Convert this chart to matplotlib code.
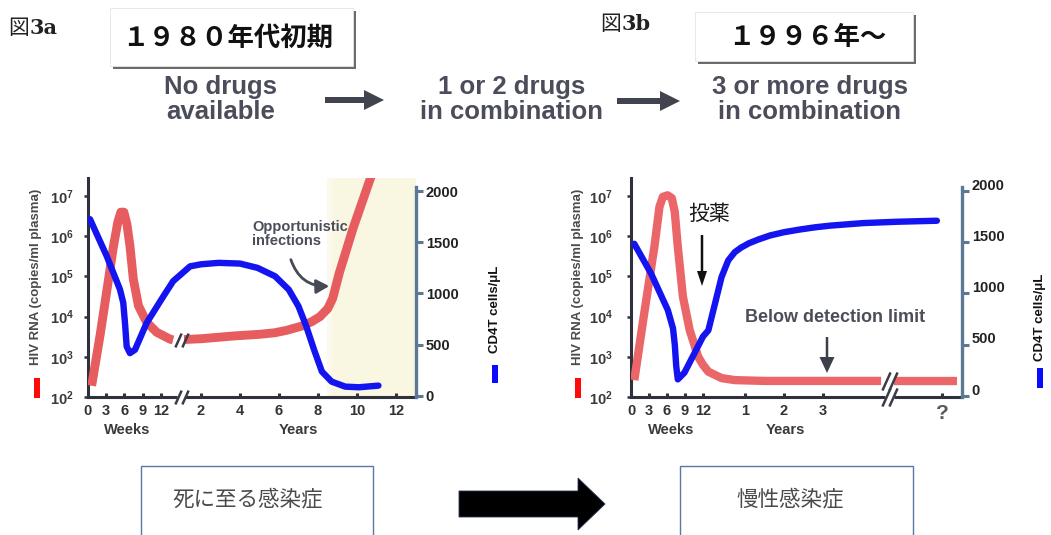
import matplotlib
matplotlib.use('Agg')
import matplotlib.pyplot as plt
import numpy as np
from matplotlib.patches import Rectangle, FancyArrow, FancyArrowPatch
from matplotlib.ticker import NullLocator
from matplotlib.transforms import ScaledTranslation

W, H = 1051, 535

# --- 3a: no drugs (RNA as log10 copies/ml, CD4T in cells/uL) ---
a_rna_weeks = [0.6, 2.0, 3.0, 4.2, 4.9, 5.4, 5.9, 6.4, 6.9, 7.45, 8.3, 9.65, 11.3, 13.5, 14.0]
a_rna_weeks_log = [2.28, 3.55, 4.55, 5.76, 6.35, 6.6, 6.6, 6.3, 5.76, 4.94, 4.27, 3.86, 3.61, 3.44, 3.42]
a_rna_years = [1.13, 2.0, 3.7, 5.0, 5.8, 6.4, 7.2, 7.7, 8.1, 8.5, 8.75, 9.1, 9.8, 10.8]
a_rna_years_log = [3.43, 3.45, 3.52, 3.56, 3.6, 3.66, 3.77, 3.88, 4.0, 4.2, 4.45, 5.1, 6.2, 7.6]
a_cd4_weeks = [0.33, 3.07, 5.26, 5.8, 6.1, 6.36, 6.9, 7.73, 9.65, 12.4, 14.0]
a_cd4_weeks_val = [1725, 1366, 1039, 909, 700, 483, 418, 451, 713, 973, 1120]
a_cd4_years = [1.44, 2.0, 2.9, 4.0, 4.9, 5.8, 6.5, 7.0, 7.4, 7.8, 8.2, 8.7, 9.4, 10.1, 11.1]
a_cd4_years_val = [1265, 1285, 1299, 1292, 1250, 1168, 1038, 875, 679, 450, 238, 140, 91, 85, 101]

# --- 3b: 3 or more drugs ---
b_rna_weeks = [0.55, 2.2, 3.9, 4.74, 5.3, 6.1, 6.8, 7.3, 7.8, 8.65, 9.77, 11.2, 12.0]
b_rna_weeks_log = [2.42, 4.08, 5.74, 6.73, 6.98, 7.02, 6.95, 6.6, 5.74, 4.5, 3.67, 3.0, 2.8]
b_rna_years = [0.06, 0.4, 0.74, 1.5, 4.49]
b_rna_years_log = [2.63, 2.47, 2.42, 2.4, 2.4]
b_rna_late = [4.82, 6.44]
b_rna_late_log = [2.4, 2.4]
b_cd4_weeks = [0.55, 3.35, 6.13, 7.0, 7.3, 7.54, 7.8, 8.9, 10.6, 12.0]
b_cd4_weeks_val = [1485, 1194, 839, 660, 500, 290, 162, 227, 420, 580]
b_cd4_years = [0.06, 0.19, 0.4, 0.57, 0.74, 0.9, 1.1, 1.35, 1.64, 2.0, 2.4, 2.8, 3.18, 4.03, 4.89, 5.92]
b_cd4_years_val = [640, 839, 1162, 1323, 1404, 1448, 1490, 1528, 1566, 1598, 1624, 1646, 1662, 1687, 1700, 1710]

rna_exp = [2, 3, 4, 5, 6, 7]
cd4_ticks = [0, 500, 1000, 1500, 2000]
week_ticks = [0, 3, 6, 9, 12]
a_year_ticks = [2, 4, 6, 8, 10, 12]
b_year_ticks = [1, 2, 3]
b_unknown_year = 6.05

RED = '#e65c5f'
BLUE = '#1414f0'
DARK = '#2f323d'
SLATE = '#5d7894'
GREY_TXT = '#4b4e5a'
SANS = ['Liberation Sans', 'Noto Sans CJK JP']
CJK = ['Noto Sans CJK JP', 'DejaVu Sans']

plt.rcParams['font.family'] = SANS
plt.rcParams['mathtext.fontset'] = 'custom'
plt.rcParams['mathtext.rm'] = 'Liberation Sans:bold'
plt.rcParams['mathtext.bf'] = 'Liberation Sans:bold'

fig = plt.figure(figsize=(W / 100, H / 100), dpi=100)


def px_box(l, t, r, b):
    return [l / W, 1 - b / H, (r - l) / W, (b - t) / H]


def fpt(x, y):
    return x / W, 1 - y / H


def inch(x, y):
    return x / 100, (H - y) / 100


def setup_panel(left, right, ypad):
    width = right - left
    ax = fig.add_axes(px_box(left, 178, right, 397))
    ax.set_yscale('log')
    for s in ['top', 'right', 'bottom']:
        ax.spines[s].set_visible(False)
    ax.spines['left'].set_linewidth(2.2)
    ax.spines['left'].set_color(DARK)
    ax.set_yticks([10.0 ** e for e in rna_exp])
    ax.set_yticklabels([r'$\mathbf{10^{%d}}$' % e for e in rna_exp])
    ax.yaxis.set_minor_locator(NullLocator())
    ax.tick_params(axis='y', direction='out', length=3, width=1.8, color=DARK,
                   pad=ypad, labelsize=10.5, labelcolor='#3a3a3a')
    ax.tick_params(axis='x', direction='in', length=3, width=2.2, color=DARK,
                   pad=5, labelsize=10.5, labelcolor='#333333')

    ax2 = ax.twinx()
    for s in ['top', 'left', 'bottom']:
        ax2.spines[s].set_visible(False)
    ax2.spines['right'].set_color(SLATE)
    ax2.spines['right'].set_linewidth(2.4)
    ax2.spines['right'].set_bounds(-10, 2040)
    ax2.set_yticks(cd4_ticks)
    ax2.set_yticklabels([str(v) for v in cd4_ticks])
    ax2.tick_params(axis='y', direction='out', length=5, width=2.2, color=SLATE,
                    pad=2, labelsize=10.5, labelcolor='#222222')
    for lbl in ax2.get_yticklabels() + ax.get_yticklabels():
        lbl.set_fontweight('bold')
    return ax, ax2, width


def axis_line(ax, segments):
    for x0, x1 in segments:
        ax.plot([x0, x1], [0, 0], transform=ax.get_xaxis_transform(), clip_on=False,
                color=DARK, lw=2.2, solid_capstyle='butt', zorder=6)


def slashes(ax, xs, y, trans, size):
    ax.plot(xs, [y] * len(xs), transform=trans, ls='none', clip_on=False,
            marker=[(-0.45, -1), (0.45, 1)], markersize=size, mew=1.8,
            mec='#3a3d48', mfc='none', zorder=7)


def finish_xticks(ax, pos, labels, width):
    ax.set_xticks(pos)
    ax.set_xticklabels(labels, fontweight='bold')
    ax.set_xlim(0, width)
    ax.set_ylim(1e2, 10 ** 7.45)


# ---------------- panel 3a ----------------
ax, ax2, wa = setup_panel(88, 416, 7)
wk = lambda t: 6.08 * np.asarray(t, float)
yr = lambda t: 74 + 19.5 * np.asarray(t, float)

ax.axvspan(yr(8.7), wa, color='#f9f6e2', lw=0, zorder=0)
ax.axvspan(yr(8.45), yr(8.7), color='#fbf9ee', lw=0, zorder=0)
ax.plot(wk(a_rna_weeks), 10.0 ** np.array(a_rna_weeks_log), color=RED, lw=6.4,
        solid_capstyle='butt', solid_joinstyle='round', zorder=3)
ax.plot(yr(a_rna_years), 10.0 ** np.array(a_rna_years_log), color=RED, lw=6.4,
        solid_capstyle='butt', solid_joinstyle='round', zorder=3)
ax2.plot(np.concatenate([wk(a_cd4_weeks), yr(a_cd4_years)]),
         a_cd4_weeks_val + a_cd4_years_val, color=BLUE, lw=4.6,
         solid_capstyle='round', solid_joinstyle='round', zorder=4)
ax2.set_ylim(-10, 2127)

axis_line(ax, [(-1.5, 89), (97, wa)])
slashes(ax, [89.5, 96.5], 0, ax.get_xaxis_transform(), 10)
slashes(ax, [89.5, 96.5], 10 ** 3.42, ax.transData, 10)
finish_xticks(ax, np.concatenate([wk(week_ticks), yr(a_year_ticks)]),
              [str(v) for v in week_ticks + a_year_ticks], wa)

fig.text(*fpt(36, 277), 'HIV RNA (copies/ml plasma)', rotation=90, ha='center',
         va='center', fontsize=9.5, fontweight='bold', color='#4a4a4a')
fig.text(*fpt(495, 309), 'CD4T cells/μL', rotation=90, ha='center', va='center',
         fontsize=9.5, fontweight='bold', color='#111111')
fig.patches.append(Rectangle(fpt(34, 398), 6 / W, 20 / H, transform=fig.transFigure,
                             color='#ff0a0a', lw=0))
fig.patches.append(Rectangle(fpt(492, 383), 6 / W, 18 / H, transform=fig.transFigure,
                             color='#0a0aff', lw=0))
fig.text(*fpt(127, 430), 'Weeks', ha='center', va='center', fontsize=10.5,
         fontweight='bold', color='#3a3a3a')
fig.text(*fpt(298, 430), 'Years', ha='center', va='center', fontsize=10.5,
         fontweight='bold', color='#3a3a3a')
fig.text(*fpt(252, 234), 'Opportunistic\ninfections', ha='left', va='center',
         fontsize=10.5, fontweight='bold', color=GREY_TXT, linespacing=1.0)
fig.patches.append(FancyArrowPatch(fpt(290, 257), fpt(332, 286), transform=fig.transFigure,
                                   connectionstyle='arc3,rad=0.4',
                                   arrowstyle='-|>,head_length=0.55,head_width=0.3',
                                   lw=2, color='#464a55', mutation_scale=14))

# ---------------- panel 3b ----------------
bx, bx2, wb = setup_panel(631, 962, 10)
wk = lambda t: 6.0 * np.asarray(t, float)
yr = lambda t: 75 + 39 * np.asarray(t, float)

brna = '#ea6669'
bx.plot(np.concatenate([wk(b_rna_weeks), yr(b_rna_years)]),
        10.0 ** np.array(b_rna_weeks_log + b_rna_years_log), color=brna, lw=6,
        solid_capstyle='butt', solid_joinstyle='round', zorder=3)
bx.plot(yr(b_rna_late), 10.0 ** np.array(b_rna_late_log), color=brna, lw=6,
        solid_capstyle='butt', zorder=3)
bx2.plot(np.concatenate([wk(b_cd4_weeks), yr(b_cd4_years)]),
         b_cd4_weeks_val + b_cd4_years_val, color=BLUE, lw=4.6,
         solid_capstyle='round', solid_joinstyle='round', zorder=4)
bx2.set_ylim(-10, 2127)
for lbl in bx2.get_yticklabels():
    lbl.set_transform(lbl.get_transform() + ScaledTranslation(0, 5 / 72, fig.dpi_scale_trans))

axis_line(bx, [(-1.5, 254), (263, wb)])
slashes(bx, [254.5, 262], 0, bx.get_xaxis_transform(), 13)
slashes(bx, [254.5, 262], 10 ** 2.4, bx.transData, 13)
finish_xticks(bx, np.concatenate([wk(week_ticks), yr(b_year_ticks + [b_unknown_year])]),
              [str(v) for v in week_ticks + b_year_ticks] + ['?'], wb)
qlab = bx.get_xticklabels()[-1]
qlab.set_fontsize(15)
qlab.set_color('#5a5a5a')

fig.text(*fpt(578, 277), 'HIV RNA (copies/ml plasma)', rotation=90, ha='center',
         va='center', fontsize=9.5, fontweight='bold', color='#4a4a4a')
fig.text(*fpt(1040, 317), 'CD4T cells/μL', rotation=90, ha='center', va='center',
         fontsize=9.5, fontweight='bold', color='#111111')
fig.patches.append(Rectangle(fpt(575, 398), 6 / W, 20 / H, transform=fig.transFigure,
                             color='#ff0a0a', lw=0))
fig.patches.append(Rectangle(fpt(1037, 388), 6 / W, 20 / H, transform=fig.transFigure,
                             color='#0a0aff', lw=0))
fig.text(*fpt(671, 430), 'Weeks', ha='center', va='center', fontsize=10.5,
         fontweight='bold', color='#3a3a3a')
fig.text(*fpt(785, 430), 'Years', ha='center', va='center', fontsize=10.5,
         fontweight='bold', color='#3a3a3a')
fig.text(*fpt(835, 317), 'Below detection limit', ha='center', va='center',
         fontsize=13, fontweight='bold', color=GREY_TXT)
fig.text(*fpt(709, 214), '投薬', ha='center', va='center', fontsize=15,
         family=CJK, color='#1a1a1a')
fig.patches.append(FancyArrow(*inch(702, 235), 0, -0.51, width=0.025, head_width=0.1,
                              head_length=0.15, length_includes_head=True,
                              transform=fig.dpi_scale_trans, color='#111111', lw=0))
fig.patches.append(FancyArrow(*inch(827, 337), 0, -0.36, width=0.025, head_width=0.15,
                              head_length=0.16, length_includes_head=True,
                              transform=fig.dpi_scale_trans, color='#3d404b', lw=0))

# ---------------- header ----------------
fig.text(*fpt(8, 28), '図', ha='left', va='center', fontsize=15, family=CJK, color='#222222')
fig.text(*fpt(30, 28), '3a', ha='left', va='center', fontsize=15, family=['DejaVu Serif'],
         fontweight='bold', color='#222222')
fig.text(*fpt(600, 24), '図', ha='left', va='center', fontsize=15, family=CJK, color='#222222')
fig.text(*fpt(622, 24), '3b', ha='left', va='center', fontsize=15, family=['DejaVu Serif'],
         fontweight='bold', color='#222222')

for (l, t, r, b), label, cx in [((110, 8, 353, 66), '１９８０年代初期', 228),
                                ((695, 12, 913, 61), '１９９６年〜', 807)]:
    fig.patches.append(Rectangle(fpt(l + 3, b + 3), (r - l) / W, (b - t) / H,
                                 transform=fig.transFigure, color='#6b6b6b', lw=0))
    fig.patches.append(Rectangle(fpt(l, b), (r - l) / W, (b - t) / H,
                                 transform=fig.transFigure, facecolor='white',
                                 edgecolor='#e4e4e4', lw=0.6))
    fig.text(*fpt(cx, (t + b) / 2 + 1), label, ha='center', va='center', fontsize=19,
             family=CJK, fontweight='bold', color='#111111')

for cx, lines in [(221, ['No drugs', 'available']),
                  (512, ['1 or 2 drugs', 'in combination']),
                  (810, ['3 or more drugs', 'in combination'])]:
    for yy, s in zip([87, 112], lines):
        fig.text(*fpt(cx, yy), s, ha='center', va='center', fontsize=18.5,
                 fontweight='bold', color=GREY_TXT)

for x0, x1, yy in [(325, 384, 100), (617, 680, 101)]:
    fig.patches.append(FancyArrow(*inch(x0, yy), (x1 - x0) / 100, 0, width=0.06,
                                  head_width=0.2, head_length=0.2,
                                  length_includes_head=True,
                                  transform=fig.dpi_scale_trans, color='#41444f', lw=0))

# ---------------- bottom boxes ----------------
for l, r, label, cx in [(141, 373, '死に至る感染症', 248), (680, 913, '慢性感染症', 790)]:
    fig.patches.append(Rectangle(fpt(l, 560), (r - l) / W, (560 - 466) / H,
                                 transform=fig.transFigure, facecolor='white',
                                 edgecolor='#5b77a8', lw=1.0))
    fig.text(*fpt(cx, 499), label, ha='center', va='center', fontsize=15.5,
             family=CJK, color='#4a4a4a')

fig.patches.append(FancyArrow(*inch(459, 504), 1.46, 0, width=0.26, head_width=0.52,
                              head_length=0.27, length_includes_head=True,
                              transform=fig.dpi_scale_trans, facecolor='black',
                              edgecolor='#24375a', lw=0.6))

fig.savefig('out.png', dpi=100)
